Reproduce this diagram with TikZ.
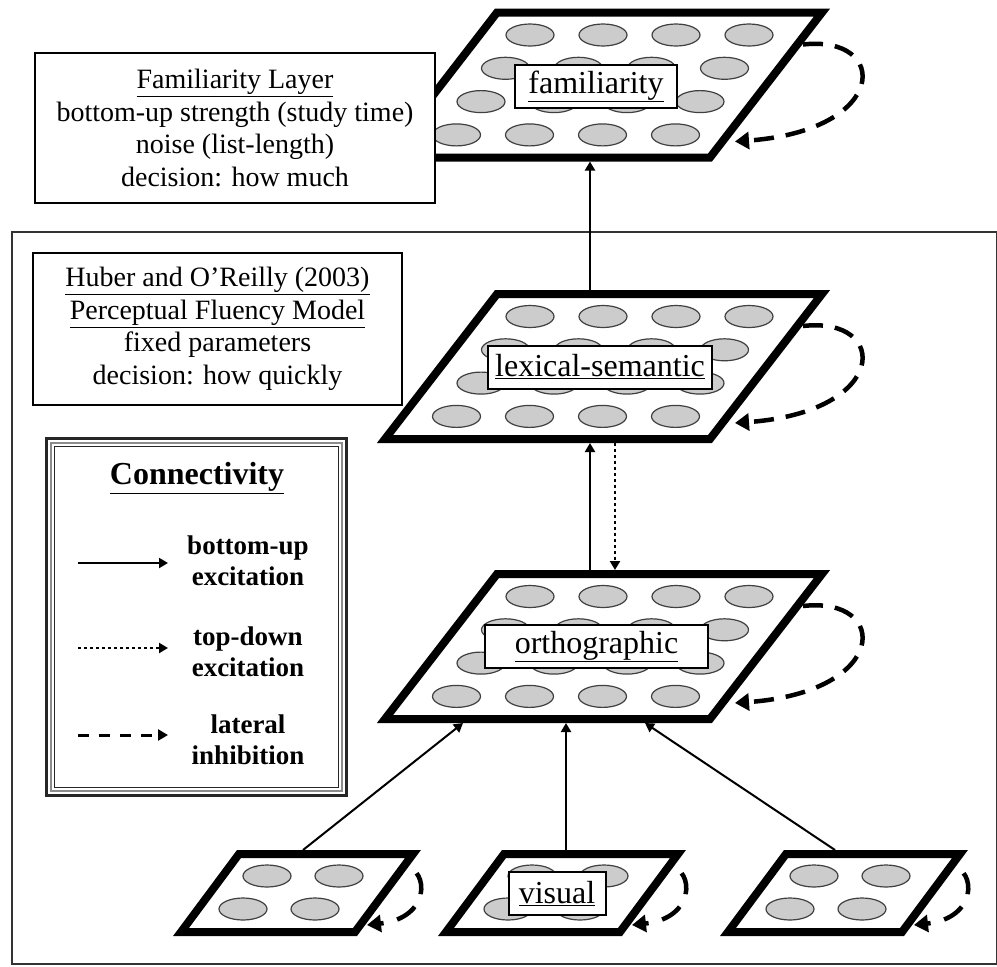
\documentclass[tikz,border=0pt]{standalone}
\usepackage{fontspec}
\setmainfont{Liberation Serif}
\usetikzlibrary{shapes.geometric,arrows.meta}
\tikzset{
  layer/.style={line width=8pt, line join=miter, fill=white, draw=black},
  unit/.style={ellipse, draw=black!75, fill=black!20, line width=1.2pt, minimum width=48pt, minimum height=22pt, inner sep=0pt},
  conn/.style={line width=2pt, -{Triangle[length=9pt,width=10pt]}},
  topdown/.style={line width=2.5pt, dash pattern=on 3pt off 3pt, -{Triangle[length=9pt,width=10pt]}},
  inhib/.style={line width=4.5pt, dash pattern=on 20pt off 12pt, -{Triangle[length=14pt,width=17pt]}},
  sinhib/.style={line width=4.5pt, dash pattern=on 22pt off 14pt, dash phase=22pt, -{Triangle[length=14pt,width=17pt]}},
  lgdash/.style={line width=3pt, dash pattern=on 11pt off 10pt, -{Triangle[length=10pt,width=11pt]}},
  labelbox/.style={draw, fill=white, line width=2pt, inner sep=0pt, minimum height=43pt, font=\fontsize{32}{36}\selectfont},
  infobox/.style={draw, fill=white, line width=2pt, inner sep=0pt, align=center, font=\fontsize{28}{32.5}\selectfont},
  lgtext/.style={align=center, inner sep=0pt, font=\bfseries\fontsize{27}{31}\selectfont}
}
\newcommand\biglayer[2]{%
  \draw[layer] (497,#2) -- (822,#2) -- (710,#2+145) -- (385,#2+145) -- cycle;
  \foreach \r in {0,...,3} {
    \foreach \c in {0,...,3} {
      \node[unit] (#1-\r-\c) at ({530-24.5*\r+73*\c},{#2+22.5+33.3*\r}) {};
    }
  }
  \coordinate (#1-ls) at (803,#2+32);
  \coordinate (#1-le) at (735,#2+129);
  \draw[inhib] (#1-ls) .. controls (890,#2+22) and (890,#2+118) .. (#1-le);
}
\newcommand\smalllayer[2]{%
  \draw[layer] (#2,854) -- (#2+174,854) -- (#2+116,932) -- (#2-58,932) -- cycle;
  \node[unit] (#1-a) at (#2+28,876) {};
  \node[unit] (#1-b) at (#2+100,876) {};
  \node[unit] (#1-c) at (#2+4,909) {};
  \node[unit] (#1-d) at (#2+76,909) {};
  \coordinate (#1-ls) at (#2+166,866);
  \coordinate (#1-le) at (#2+128,925);
  \draw[sinhib] (#1-ls) .. controls (#2+190,870) and (#2+192,918) .. (#1-le);
}
\begin{document}
\begin{tikzpicture}[x=1pt,y=-1pt]
\useasboundingbox (0,0) rectangle (997,967);
% outer frame
\draw[line width=2pt, black!80] (12,232) rectangle (997,964);
% layers
\biglayer{fam}{12.5}
\biglayer{lex}{294}
\biglayer{ort}{574}
\smalllayer{vl}{239}
\smalllayer{vm}{504}
\smalllayer{vr}{786}
% layer labels
\node[labelbox, minimum width=162pt] (famlab) at (596,86.5) {\underline{familiarity}};
\node[labelbox, minimum width=224pt] (lexlab) at (600,367) {\underline{lexical-semantic}};
\node[labelbox, minimum width=223pt] (ortlab) at (596.5,646.5) {\underline{orthographic}};
\node[labelbox, minimum width=97pt] (vislab) at (557,893.5) {\underline{visual}};
% connector end points
\coordinate (famD) at (590,161.5);
\coordinate (lexU) at (590,290);
\coordinate (lexD) at (590,443);
\coordinate (ortU) at (590,570);
\coordinate (lexD2) at (615,443);
\coordinate (ortU2) at (615,570);
\coordinate (ortDl) at (463,723);
\coordinate (ortDm) at (566,723);
\coordinate (ortDr) at (645,723);
\coordinate (vlU) at (303,850);
\coordinate (vmU) at (566,850);
\coordinate (vrU) at (835,850);
\draw[conn] (lexU) -- (famD);
\draw[conn] (ortU) -- (lexD);
\draw[topdown] (lexD2) -- (ortU2);
\draw[conn] (vlU) -- (ortDl);
\draw[conn] (vmU) -- (ortDm);
\draw[conn] (vrU) -- (ortDr);
% info boxes
\node[infobox, minimum width=400pt, minimum height=150pt] (faminfo) at (235,128)
  {\underline{Familiarity Layer}\\bottom-up strength (study time)\\noise (list-length)\\decision: how much};
\node[infobox, minimum width=369pt, minimum height=152pt] (huber) at (217.5,329)
  {\underline{Huber and O’Reilly (2003)}\\\underline{Perceptual Fluency Model}\\fixed parameters\\decision: how quickly};
% legend
\draw[line width=3pt, black!85] (46.5,438.5) rectangle (346.5,795.5);
\draw[line width=1.2pt, black!45] (51,443) rectangle (342,791);
\draw[line width=1.5pt, black!85] (54.5,446.5) rectangle (338.5,787.5);
\node[inner sep=0pt, font=\bfseries\fontsize{32}{36}\selectfont] (lgtitle) at (197,478) {\underline{Connectivity}};
\coordinate (l1a) at (78,563); \coordinate (l1b) at (168,563);
\coordinate (l2a) at (78,648); \coordinate (l2b) at (168,648);
\coordinate (l3a) at (78,735); \coordinate (l3b) at (168,735);
\draw[conn] (l1a) -- (l1b);
\draw[topdown] (l2a) -- (l2b);
\draw[lgdash] (l3a) -- (l3b);
\node[lgtext] (lg1) at (248,561) {bottom-up\\excitation};
\node[lgtext] (lg2) at (248,652) {top-down\\excitation};
\node[lgtext] (lg3) at (248,740) {lateral\\inhibition};
\end{tikzpicture}
\end{document}
